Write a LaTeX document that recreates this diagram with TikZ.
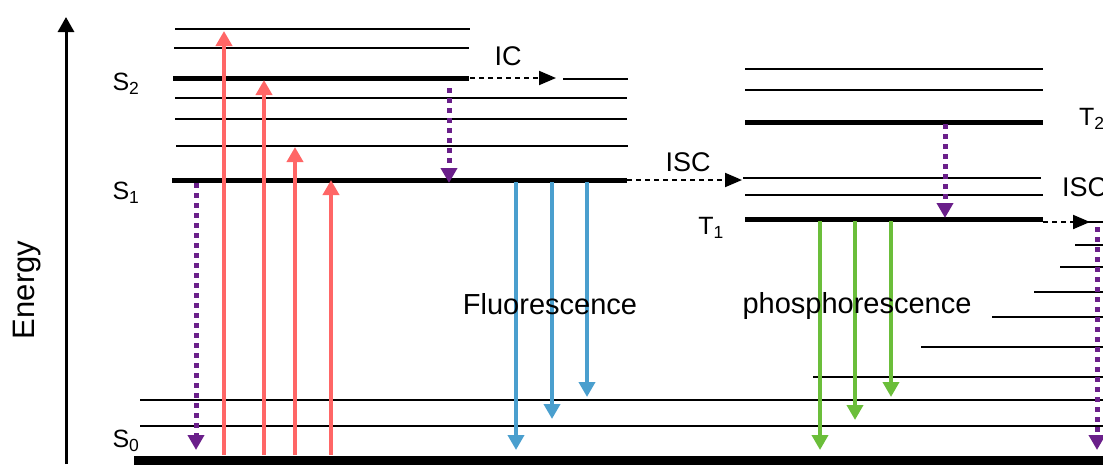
\documentclass[tikz,border=0pt]{standalone}
\usepackage{fontspec}
\setmainfont{Liberation Sans}
\usetikzlibrary{arrows.meta}

\definecolor{exred}{HTML}{FF6666}
\definecolor{flblue}{HTML}{4A9FCE}
\definecolor{phgreen}{HTML}{6BBE3A}
\definecolor{nrpurple}{HTML}{6A1F8A}

\tikzset{
  thinlevel/.style={line width=1.6pt, black},
  thicklevel/.style={line width=5pt, black},
  excite/.style={exred, line width=4.5pt, -{Triangle[width=16pt,length=15pt]}},
  fluor/.style={flblue, line width=4.5pt, -{Triangle[width=16pt,length=15pt]}},
  phos/.style={phgreen, line width=4.5pt, -{Triangle[width=16pt,length=15pt]}},
  relax/.style={nrpurple, line width=5pt, dash pattern=on 5pt off 5pt, -{Triangle[width=16pt,length=15pt]}},
  cross/.style={black, line width=2pt, dash pattern=on 5pt off 4pt, -{Triangle[width=14pt,length=17pt]}},
  lbl/.style={inner sep=0pt, font=\fontsize{25}{30}\selectfont},
  biglbl/.style={inner sep=0pt, font=\fontsize{27}{32}\selectfont},
  hugelbl/.style={inner sep=0pt, font=\fontsize{29}{34}\selectfont}
}

\begin{document}
\begin{tikzpicture}[x=1pt, y=-1pt]
  \useasboundingbox (0,0) rectangle (1103,464);
  \clip (0,0) rectangle (1103,464);

  % energy axis
  \coordinate (axisbot) at (66,464);
  \coordinate (axistop) at (66,17);
  \draw[line width=3pt, -{Triangle[width=16pt,length=15pt]}] (axisbot) -- (axistop);
  \node[inner sep=0pt, font=\fontsize{31}{36}\selectfont, rotate=90] (energy) at (27,290) {Energy};

  % singlet manifold S1 / S2
  \draw[thinlevel] (175,29) -- (470,29);
  \draw[thinlevel] (174,48) -- (469,48);
  \draw[thicklevel] (173,78) -- (469,78);
  \draw[thinlevel] (175,98) -- (627,98);
  \draw[thinlevel] (175,119) -- (627,119);
  \draw[thinlevel] (176,146) -- (628,146);
  \draw[thicklevel] (172,180) -- (627,180);
  \draw[thinlevel] (563,79) -- (628,79);

  \node[lbl] (s2) at (126,84) {S\textsubscript{2}};
  \node[lbl] (s1) at (126,193) {S\textsubscript{1}};
  \node[lbl] (s0) at (126,441) {S\textsubscript{0}};

  % triplet manifold T1 / T2
  \draw[thinlevel] (745,69) -- (1043,69);
  \draw[thinlevel] (745,90) -- (1043,90);
  \draw[thicklevel] (745,122) -- (1043,122);
  \draw[thinlevel] (743,178) -- (1041,178);
  \draw[thinlevel] (745,195) -- (1043,195);
  \draw[thicklevel] (745,219) -- (1043,219);
  \draw[thinlevel] (1085,222) -- (1103,222);

  \node[lbl] (t1) at (711,228) {T\textsubscript{1}};
  \node[lbl, anchor=west] (t2) at (1079,119) {T\textsubscript{2}};

  % stepped vibrational levels on the right
  \draw[thinlevel] (1075,245) -- (1103,245);
  \draw[thinlevel] (1060,267) -- (1103,267);
  \draw[thinlevel] (1034,292) -- (1103,292);
  \draw[thinlevel] (992,317) -- (1103,317);
  \draw[thinlevel] (921,347) -- (1103,347);
  \draw[thinlevel] (813,377) -- (1103,377);

  % ground state S0
  \draw[thinlevel] (140,400) -- (1103,400);
  \draw[thinlevel] (140,426) -- (1103,426);
  \draw[line width=9pt] (134,460) -- (1103,460);

  % absorption
  \coordinate (a1s) at (224,455); \coordinate (a1e) at (224,31);
  \coordinate (a2s) at (264,455); \coordinate (a2e) at (264,80);
  \coordinate (a3s) at (295,455); \coordinate (a3e) at (295,147);
  \coordinate (a4s) at (331,455); \coordinate (a4e) at (331,180);
  \draw[excite] (a1s) -- (a1e);
  \draw[excite] (a2s) -- (a2e);
  \draw[excite] (a3s) -- (a3e);
  \draw[excite] (a4s) -- (a4e);

  % non-radiative relaxation
  \coordinate (r1s) at (196,183); \coordinate (r1e) at (196,450);
  \coordinate (r2s) at (449,88);  \coordinate (r2e) at (449,183);
  \coordinate (r3s) at (945,124); \coordinate (r3e) at (945,218);
  \coordinate (r4s) at (1097,227); \coordinate (r4e) at (1097,450);
  \draw[relax] (r1s) -- (r1e);
  \draw[relax] (r2s) -- (r2e);
  \draw[relax] (r3s) -- (r3e);
  \draw[relax] (r4s) -- (r4e);

  % internal conversion and intersystem crossing
  \coordinate (ics) at (470,78);  \coordinate (ice) at (556,78);
  \coordinate (isc1s) at (627,180); \coordinate (isc1e) at (742,180);
  \coordinate (isc2s) at (1043,222); \coordinate (isc2e) at (1090,222);
  \draw[cross] (ics) -- (ice);
  \draw[cross] (isc1s) -- (isc1e);
  \draw[cross] (isc2s) -- (isc2e);
  \node[biglbl] (iclbl) at (508,56) {IC};
  \node[biglbl] (isclbl) at (688,162) {ISC};
  \node[biglbl, anchor=west] (isclbl2) at (1062,187) {ISC};

  % fluorescence
  \coordinate (f1s) at (516,182); \coordinate (f1e) at (516,450);
  \coordinate (f2s) at (552,182); \coordinate (f2e) at (552,419);
  \coordinate (f3s) at (587,182); \coordinate (f3e) at (587,397);
  \draw[fluor] (f1s) -- (f1e);
  \draw[fluor] (f2s) -- (f2e);
  \draw[fluor] (f3s) -- (f3e);
  \node[hugelbl] (fllbl) at (550,304) {Fluorescence};

  % phosphorescence
  \coordinate (p1s) at (820,221); \coordinate (p1e) at (820,450);
  \coordinate (p2s) at (855,221); \coordinate (p2e) at (855,420);
  \coordinate (p3s) at (891,221); \coordinate (p3e) at (891,397);
  \draw[phos] (p1s) -- (p1e);
  \draw[phos] (p2s) -- (p2e);
  \draw[phos] (p3s) -- (p3e);
  \node[hugelbl] (phlbl) at (857,306) {phosphorescence};
\end{tikzpicture}
\end{document}
